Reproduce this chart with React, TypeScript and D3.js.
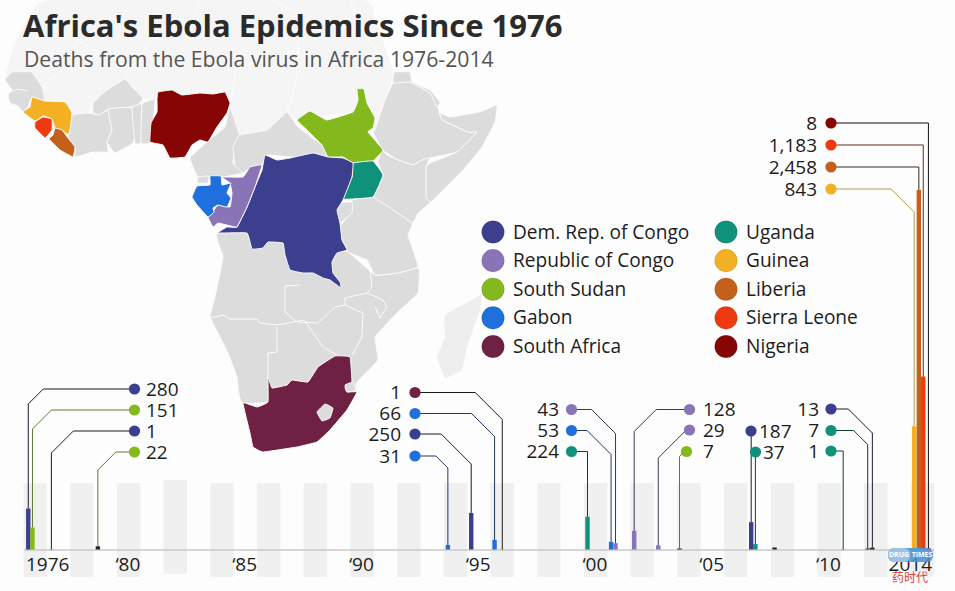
import * as d3 from "d3";
import { useEffect, useRef } from "react";

type Pt = [number, number];

const WIDTH = 955;
const HEIGHT = 591;

const titleText = "Africa's Ebola Epidemics Since 1976";
const subtitleText = "Deaths from the Ebola virus in Africa 1976-2014";

// Countries, legend order
const countries = [
    "Dem. Rep. of Congo", "Republic of Congo", "South Sudan", "Gabon", "South Africa",
    "Uganda", "Guinea", "Liberia", "Sierra Leone", "Nigeria",
];
const countryColors = [
    "#3c3f8e", "#8a74b8", "#84b91e", "#1f6fdc", "#6f2144",
    "#10917a", "#f2b022", "#c4601a", "#ee3a10", "#860606",
];
const leaderColors = [
    "#1b1b2c", "#3c3854", "#5c7d30", "#22395c", "#1b1b1b",
    "#143a32", "#b89a4a", "#3a2a1a", "#6b2a1a", "#111111",
];

// Outbreaks: year (with the month as a fraction), country, deaths
const outbreakYears = [
    1976.11, 1976.29, 1977.1, 1979.09, 1994.08, 1995.08, 1996.08, 1996.41, 2000.06, 2001.07,
    2001.26, 2002.06, 2003.09, 2004.0, 2007.07, 2007.25, 2008.07, 2011.01, 2012.06, 2012.26,
    2014.05, 2014.25, 2014.44, 2014.66,
];
const outbreakCountries = [
    "Dem. Rep. of Congo", "South Sudan", "Dem. Rep. of Congo", "South Sudan", "Gabon",
    "Dem. Rep. of Congo", "Gabon", "South Africa", "Uganda", "Gabon",
    "Republic of Congo", "Republic of Congo", "Republic of Congo", "South Sudan", "Dem. Rep. of Congo",
    "Uganda", "Dem. Rep. of Congo", "Uganda", "Uganda", "Dem. Rep. of Congo",
    "Guinea", "Liberia", "Sierra Leone", "Nigeria",
];
const outbreakDeaths = [
    280, 151, 1, 22, 31, 250, 66, 1, 224, 53,
    43, 128, 29, 7, 187, 37, 14, 1, 7, 13,
    843, 2458, 1183, 8,
];
const stripeYears = d3.range(1976, 2015, 2);
const tickYears = [1976, 1980, 1985, 1990, 1995, 2000, 2005, 2010, 2014];

// Callout layout, same order as the outbreaks: dot x, dot y, label x, length of the slanted part
// null = the small 2008 bar has no callout
const calloutLayout: ([number, number, number, number] | null)[] = [
    [134.5, 389, 146, 15], [134.5, 410, 146, 19], [134.5, 431, 146, 22], [134.5, 452, 146, 18],
    [415, 456, 401, 12], [415, 434, 401, 30], [415, 413.5, 401, 23], [415, 392.5, 401, 27],
    [571.5, 451.5, 559, 0], [571.5, 430.5, 559, 24], [571.5, 409.5, 559, 24],
    [689.5, 409.5, 703, 22], [689.5, 430, 703, 28], [686.5, 451.5, 703, 5],
    [751, 431, 759, 0], [755.5, 452, 763, 0], null,
    [831, 451, 819, 0], [831, 430.5, 819, 14], [831, 409, 819, 24],
    [831, 189, 817, 23], [831, 167, 817, 0], [831, 145, 817, 0], [831, 123, 817, 0],
];

// Map outlines
const paleNorth: Pt[] = [
    [5, 80], [14, 45], [30, 15], [50, 0], [362, 0], [375, 18], [393, 72], [385, 100], [375, 130], [353, 112],
    [297, 120], [287, 112], [267, 130], [240, 135], [230, 107], [225, 92], [157, 100], [143, 98], [125, 79],
    [107, 90], [93, 103], [88, 113], [72, 115], [65, 102], [45, 101], [42, 87], [32, 72],
];
const paleLines: Pt[][] = [
    [[287, 112], [296, 82], [298, 50], [300, 14], [270, 0]],
    [[125, 79], [138, 58], [152, 40], [190, 28], [200, 0]],
    [[230, 107], [236, 70], [262, 60], [300, 50]],
    [[42, 87], [62, 70], [78, 40], [110, 60], [138, 58]],
    [[350, 0], [365, 35], [393, 72]],
];
const greyShapes: Pt[][] = [
    // Senegal area
    [[5, 80], [12, 72], [32, 72], [42, 87], [45, 101], [32, 97], [28, 107], [23, 112], [18, 106], [10, 103], [8, 95], [12, 90]],
    // Burkina Faso
    [[93, 103], [107, 90], [125, 79], [132, 87], [143, 98], [138, 105], [130, 107], [108, 109], [100, 115], [93, 113]],
    // Cote d'Ivoire
    [[72, 115], [88, 113], [100, 115], [108, 110], [112, 130], [107, 142], [108, 152], [93, 152], [75, 157], [75, 148], [68, 137], [70, 130]],
    // Ghana
    [[108, 109], [132, 108], [135, 133], [133, 143], [115, 153], [107, 142], [112, 130]],
    // Togo, Benin
    [[132, 108], [142, 104], [141, 143], [135, 143]],
    [[142, 104], [155, 100], [151, 142], [141, 143]],
    // Cameroon
    [[230, 107], [240, 137], [235, 147], [233, 163], [243, 173], [223, 177], [198, 177], [190, 158], [207, 142], [225, 127]],
    // Equatorial Guinea
    [[198, 177], [208, 176], [208, 183], [197, 183]],
    // Central African Republic
    [[233, 147], [240, 135], [267, 130], [287, 112], [298, 127], [322, 145], [330, 157], [292, 157], [267, 155], [262, 164], [247, 170], [243, 173], [235, 165]],
    // Ethiopia, Eritrea, Somalia
    [[375, 130], [385, 100], [393, 83], [410, 82], [430, 93], [438, 108], [442, 120], [468, 132], [477, 132], [457, 152], [430, 158], [422, 160], [413, 165], [398, 160], [387, 153], [382, 150], [373, 132]],
    [[393, 83], [394, 72], [410, 72], [412, 82], [430, 90], [440, 102], [437, 107], [430, 93], [410, 82]],
    [[440, 113], [450, 117], [480, 112], [497, 105], [495, 122], [482, 147], [463, 170], [430, 203], [426, 197], [426, 167], [430, 163], [457, 152], [477, 132], [468, 132], [442, 120]],
    // Kenya
    [[382, 150], [387, 155], [398, 160], [413, 165], [422, 160], [430, 158], [426, 167], [426, 197], [430, 203], [418, 213], [412, 223], [373, 197], [383, 175], [378, 162]],
    // Southern Africa as one piece
    [[217, 233], [300, 233], [348, 252], [375, 275], [398, 273], [419, 268], [418, 293], [397, 313], [375, 337], [378, 360], [357, 382], [350, 400], [243, 403], [237, 377], [228, 353], [218, 333], [210, 317], [215, 297], [223, 257]],
    // Tanzania
    [[352, 200], [373, 197], [412, 223], [408, 235], [413, 250], [418, 267], [398, 273], [375, 275], [367, 260], [348, 252], [338, 230], [350, 213]],
    // Rwanda, Burundi
    [[337, 203], [352, 202], [352, 213], [340, 223], [337, 213]],
];
const borderLines: Pt[][] = [
    [[10, 92], [18, 89], [28, 91]],
    [[210, 318], [223, 315], [230, 319], [257, 319], [260, 323], [277, 325], [293, 322], [305, 320]],
    [[277, 327], [277, 352], [268, 353], [268, 377]],
    [[305, 321], [323, 347], [337, 355]],
    [[318, 323], [335, 307], [345, 305], [363, 313], [362, 337], [352, 355]],
    [[300, 285], [285, 286], [285, 312], [297, 322], [317, 323]],
    [[345, 305], [345, 298], [367, 293], [372, 287], [370, 270], [367, 260]],
    [[367, 293], [383, 300], [387, 307], [380, 318], [375, 307]],
];
const madagascar: Pt[] = [[477, 297], [482, 293], [480, 310], [467, 347], [462, 370], [445, 378], [437, 357], [445, 337], [445, 315]];
const lesotho: Pt[] = [[317, 412], [325, 404], [333, 408], [330, 418], [322, 421]];
const swaziland: Pt[] = [[345, 385], [353, 382], [356, 390], [347, 392]];

const countryShapes: Record<string, Pt[]> = {
    "Nigeria": [[157, 100], [158, 92], [172, 90], [182, 95], [200, 93], [213, 94], [225, 92], [230, 103], [227, 113], [217, 127], [208, 142], [200, 140], [192, 145], [185, 157], [170, 158], [163, 145], [150, 142], [151, 123], [157, 112]],
    "Guinea": [[32, 97], [45, 101], [65, 102], [72, 113], [70, 130], [68, 135], [62, 130], [55, 128], [52, 119], [43, 116], [35, 121], [23, 112], [30, 107]],
    "Sierra Leone": [[43, 117], [52, 119], [52, 130], [45, 138], [35, 128], [35, 122]],
    "Liberia": [[55, 128], [62, 130], [68, 138], [75, 147], [73, 157], [60, 150], [49, 139], [53, 135]],
    "South Sudan": [[297, 120], [310, 111], [327, 120], [353, 112], [358, 100], [357, 89], [364, 89], [367, 103], [375, 118], [373, 128], [368, 132], [383, 150], [372, 162], [353, 163], [343, 157], [328, 157], [322, 145], [307, 130]],
    "Uganda": [[353, 163], [373, 161], [383, 175], [373, 197], [343, 199], [352, 177]],
    "Dem. Rep. of Congo": [[265, 155], [277, 160], [290, 158], [313, 153], [328, 157], [343, 158], [353, 163], [352, 177], [343, 200], [337, 210], [340, 223], [342, 240], [347, 250], [337, 253], [332, 262], [333, 273], [340, 282], [341, 288], [330, 280], [323, 278], [313, 273], [303, 273], [290, 270], [285, 255], [283, 243], [268, 242], [263, 248], [252, 249], [247, 233], [218, 233], [227, 227], [237, 227], [247, 207], [255, 187], [262, 170]],
    "Republic of Congo": [[262, 165], [255, 187], [247, 207], [237, 227], [227, 225], [218, 223], [213, 227], [208, 217], [214, 210], [218, 205], [230, 207], [232, 193], [230, 183], [222, 177], [243, 177], [250, 167]],
    "Gabon": [[210, 176], [221, 176], [222, 185], [231, 183], [227, 193], [231, 198], [227, 207], [218, 205], [213, 208], [214, 212], [208, 217], [197, 205], [192, 197], [197, 186], [210, 185]],
    "South Africa": [[268, 377], [272, 388], [287, 385], [292, 380], [308, 382], [318, 367], [335, 356], [350, 357], [352, 383], [345, 387], [347, 392], [357, 392], [347, 410], [330, 430], [317, 442], [297, 447], [263, 452], [253, 447], [250, 433], [243, 403], [257, 407], [268, 402]],
};

const FONT = "'Open Sans', 'Noto Sans', sans-serif";

const App = () => {
    const svgRef = useRef<SVGSVGElement | null>(null);

    useEffect(() => {
        const svg = d3.select(svgRef.current);
        svg.selectAll("*").remove();

        const x = d3.scaleLinear().domain([1976, 2015]).range([23.5, 934.15]);
        const y = d3.scaleLinear().domain([0, 2458]).range([549.5, 190]);
        const color = d3.scaleOrdinal<string, string>().domain(countries).range(countryColors);
        const leader = d3.scaleOrdinal<string, string>().domain(countries).range(leaderColors);
        // a light rounding takes the sharp corners off the traced outlines
        const closed = d3.line().curve(d3.curveCardinalClosed.tension(0.75));
        const open = d3.line();
        const barWidth = 4.4;

        svg.append("rect").attr("width", WIDTH).attr("height", HEIGHT).attr("fill", "#fdfdfd");

        // Map
        const map = svg.append("g").attr("stroke-linejoin", "round");
        map.append("path").attr("d", closed(paleNorth)).attr("fill", "#f5f5f5");
        map.selectAll(".pale-line").data(paleLines).join("path")
            .attr("d", (d) => open(d)).attr("fill", "none").attr("stroke", "#fbfbfb").attr("stroke-width", 1.2);
        map.append("path").attr("d", closed(madagascar)).attr("fill", "#eeeeee");
        map.selectAll(".grey").data(greyShapes).join("path")
            .attr("d", (d) => closed(d)).attr("fill", "#dcdcdc").attr("stroke", "#fbfbfb").attr("stroke-width", 1);
        map.selectAll(".border").data(borderLines).join("path")
            .attr("d", (d) => open(d)).attr("fill", "none").attr("stroke", "#fbfbfb").attr("stroke-width", 1);
        map.selectAll(".country").data(Object.keys(countryShapes)).join("path")
            .attr("d", (d) => closed(countryShapes[d])).attr("fill", (d) => color(d))
            .attr("stroke", "#fbfbfb").attr("stroke-width", 1);
        map.selectAll(".hole").data([lesotho, swaziland]).join("path")
            .attr("d", (d) => closed(d)).attr("fill", "#dcdcdc").attr("stroke", "#fbfbfb").attr("stroke-width", 1);

        // Alternating year bands (the 1982 one sits a little higher in the original)
        svg.selectAll(".stripe").data(stripeYears).join("rect")
            .attr("x", (d) => x(d)).attr("width", (d) => x(d + 1) - x(d))
            .attr("y", (d) => (d === 1982 ? 480 : 483)).attr("height", 94)
            .attr("fill", "#f0f0f0");

        // Axis
        const axis = svg.append("g").attr("transform", `translate(0,${y(0)})`)
            .call(d3.axisBottom(x).tickValues(tickYears).tickSize(0).tickPadding(8)
                .tickFormat((d) => {
                    const yr = +d;
                    return yr === 1976 || yr === 2014 ? String(yr) : `‘${String(yr).slice(2)}`;
                }));
        axis.select(".domain").attr("stroke", "#c8c8c8").attr("stroke-width", 1.5);
        axis.selectAll("text")
            .attr("font-family", FONT).attr("font-size", 19).attr("fill", "#1c1c1c")
            .attr("text-anchor", (d) => (d === 2014 ? "middle" : "start"))
            .attr("dx", (d) => (d === 1976 ? 2 : d === 2014 ? -1 : -2));

        // Bars (the tiniest ones read as almost black in the picture)
        const outbreaks = outbreakYears.map((year, i) => ({
            year, country: outbreakCountries[i], deaths: outbreakDeaths[i], callout: calloutLayout[i],
        }));
        svg.selectAll(".bar").data(outbreaks).join("rect")
            .attr("x", (d) => x(d.year)).attr("width", barWidth)
            .attr("y", (d) => y(d.deaths)).attr("height", (d) => y(0) - y(d.deaths))
            .attr("fill", (d) => (d.deaths < 25 ? "#222222" : color(d.country)));

        // Callouts
        const called = outbreaks.filter((d) => d.callout);
        svg.selectAll(".leader").data(called).join("path")
            .attr("fill", "none").attr("stroke", (d) => leader(d.country)).attr("stroke-width", 1)
            .attr("d", (d) => {
                const [dotX, dotY, , slant] = d.callout!;
                const lineX = x(d.year) + barWidth / 2;
                const dir = dotX > lineX ? 1 : -1;
                const pts: Pt[] = [[dotX, dotY], [lineX + dir * slant, dotY], [lineX, dotY + slant], [lineX, y(d.deaths)]];
                return open(pts);
            });
        svg.selectAll(".dot").data(called).join("circle")
            .attr("cx", (d) => d.callout![0]).attr("cy", (d) => d.callout![1]).attr("r", 5.6)
            .attr("fill", (d) => color(d.country));
        svg.selectAll(".value").data(called).join("text")
            .attr("x", (d) => d.callout![2])
            .attr("y", (d) => d.callout![1] + 6.8)
            .attr("text-anchor", (d) => (d.callout![2] > d.callout![0] ? "start" : "end"))
            .attr("font-family", FONT).attr("font-size", 19).attr("fill", "#1c1c1c")
            .text((d) => d3.format(",")(d.deaths));

        // Legend, two columns of five
        const legendRow = d3.scalePoint<number>().domain([0, 1, 2, 3, 4]).range([232, 346.5]);
        const legend = svg.selectAll(".legend").data(countries).join("g")
            .attr("transform", (_, i) => `translate(${i < 5 ? 493 : 726},${legendRow(i % 5)})`);
        legend.append("circle").attr("r", 11.3).attr("fill", (d) => color(d))
            .attr("stroke", "#000").attr("stroke-opacity", 0.12);
        legend.append("text").attr("x", 20).attr("y", 6.5)
            .attr("font-family", FONT).attr("font-size", 19.1).attr("fill", "#1c1c1c")
            .text((d) => d);

        // Title
        svg.append("text").attr("x", 23).attr("y", 37)
            .attr("font-family", FONT).attr("font-size", 31).attr("font-weight", 700).attr("fill", "#2b2b2b")
            .text(titleText);
        svg.append("text").attr("x", 24).attr("y", 67)
            .attr("font-family", FONT).attr("font-size", 21.2).attr("fill", "#555555")
            .text(subtitleText);

        // Watermark in the corner of the picture
        const mark = svg.append("g").attr("font-family", FONT).attr("font-weight", 700);
        mark.append("rect").attr("x", 888).attr("y", 548).attr("width", 45).attr("height", 14).attr("rx", 6)
            .attr("fill", "#4f95d6").attr("opacity", 0.9);
        mark.append("rect").attr("x", 888).attr("y", 548).attr("width", 22).attr("height", 14).attr("rx", 6)
            .attr("fill", "#a3c6e6").attr("opacity", 0.9);
        mark.append("text").attr("x", 899).attr("y", 557).attr("text-anchor", "middle")
            .attr("font-size", 7).attr("fill", "#fff").text("DRUG");
        mark.append("text").attr("x", 922).attr("y", 557).attr("text-anchor", "middle")
            .attr("font-size", 7).attr("fill", "#fff").text("TIMES");
        svg.append("text").attr("x", 910).attr("y", 582).attr("text-anchor", "middle")
            .attr("font-family", "'Noto Sans CJK SC'").attr("font-size", 12).attr("fill", "#dd3b3b")
            .text("药时代");
    }, []);

    return (
        <svg
            ref={svgRef}
            width={WIDTH}
            height={HEIGHT}
            style={{ position: "absolute", left: 0, top: 0, display: "block" }}
        ></svg>
    );
};

export default App;
